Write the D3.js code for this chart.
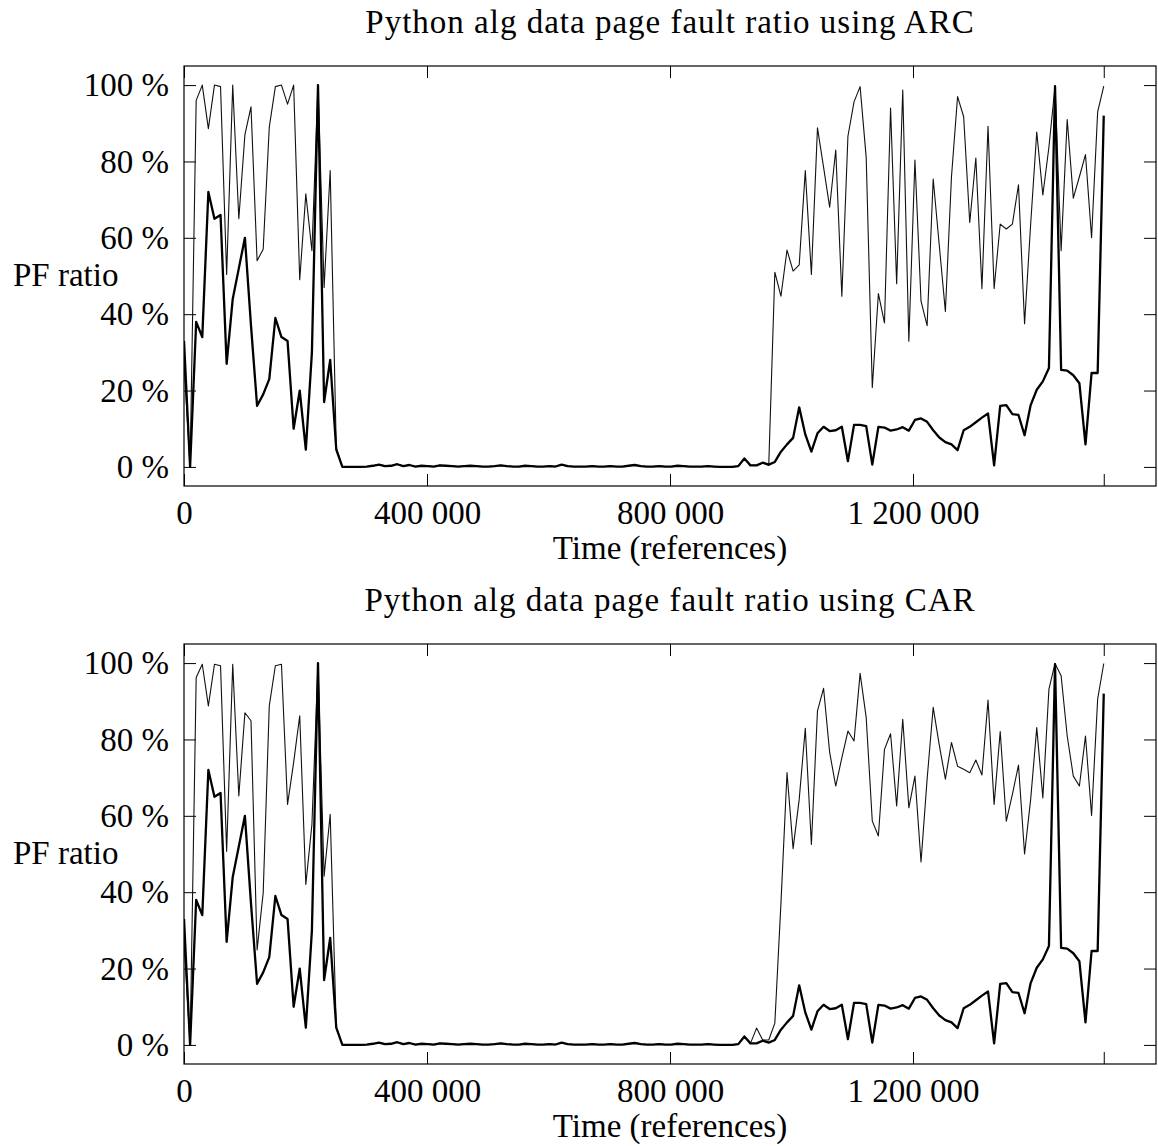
<!DOCTYPE html>
<html>
<head>
<meta charset="utf-8">
<script src="https://cdn.jsdelivr.net/npm/d3@7"></script>
<style>
  body { margin: 0; background: #fff; }
  svg text { font-family: "Liberation Serif", "Times New Roman", serif; fill: #000; }
</style>
</head>
<body>
<svg id="chart" width="1158" height="1146"></svg>
<script>
// ---- data -------------------------------------------------------------
// One sample per window; the trace covers this many memory references.
const totalReferences = 1514000;

const xTickValues = [0, 400000, 800000, 1200000];
const yTickValues = [0, 20, 40, 60, 80, 100];

// Idle stretch in the middle of the run, shared by every curve (samples 27..91).
const idleRatio = [
  0, 0, 0, 0.1, 0.3, 0.6, 0.2, 0.3, 0.7, 0.2,
  0.5, 0.1, 0.3, 0.2, 0.1, 0.4, 0.3, 0.2, 0.1, 0.2,
  0.3, 0.2, 0.1, 0.1, 0.2, 0.4, 0.2, 0.1, 0.1, 0.3,
  0.2, 0.1, 0.1, 0.2, 0.1, 0.6, 0.2, 0.1, 0.1, 0.1,
  0.2, 0.1, 0.1, 0.2, 0.1, 0.1, 0.3, 0.5, 0.2, 0.1,
  0.1, 0.2, 0.1, 0.1, 0.3, 0.2, 0.1, 0.1, 0.1, 0.2,
  0.1, 0, 0, 0, 0.2
];

// Thick curve (same in both panels): samples 0..26 and 92..151.
const baseStart = [
  33, 0, 38, 34, 72, 65, 66, 27, 44, 52,
  60, 37, 16, 19, 23, 39, 34, 33, 10, 20,
  4.5, 30, 100, 17, 28, 4.5, 0
];
const baseEnd = [
  2.2, 0.4, 0.4, 1.1, 0.6, 1.3, 4, 5.9, 7.6, 15.6,
  8.5, 4, 8.8, 10.5, 9.4, 9.6, 10.5, 1.5, 11, 11,
  10.7, 0.6, 10.5, 10.3, 9.5, 9.8, 10.4, 9.5, 12.3, 12.7,
  11.8, 9.6, 7.7, 6.5, 5.9, 4.4, 9.6, 10.5, 11.7, 12.9,
  14, 0.4, 16, 16.2, 13.8, 13.6, 8.3, 16.2, 20.2, 22.4,
  25.9, 99.7, 25.4, 25.2, 24, 21.9, 5.9, 24.6, 24.6, 92
];

// ARC page fault ratio (%): samples 0..26 and 92..151.
const arcStart = [
  27, 0, 96, 100, 88.6, 100, 99.6, 50.4, 100, 65,
  87, 94.3, 54, 57, 89, 99.6, 100, 95, 100, 49,
  71.5, 56.6, 100, 47, 77.6, 5, 0
];
const arcEnd = [
  2.2, 0.4, 0.4, 1.1, 0.4, 51, 44.7, 56.8, 51.3, 52.9,
  77.6, 50.4, 88.8, 78.5, 68, 83, 44.7, 86.6, 95.6, 99.6,
  81, 20.8, 45.4, 37.7, 94, 48, 98.7, 32.9, 80.4, 43.4,
  37, 75.4, 58, 40.7, 76, 97, 91.7, 64, 80.9, 46.7,
  89.2, 46.7, 63.6, 62.3, 63.6, 73.9, 37.5, 63.6, 87.7, 71.2,
  83.8, 99.7, 56.6, 91, 70.4, 76, 81.8, 60, 93, 99.7
];

// CAR page fault ratio (%): samples 0..26 and 92..151.
const carStart = [
  27, 0, 96.2, 99.7, 88.8, 99.7, 99.3, 50.7, 99.7, 65.2,
  87, 84.9, 24.9, 39.8, 88.8, 99.3, 99.7, 63, 74, 86.2,
  42, 57.7, 99.7, 44.2, 60.4, 4.4, 0
];
const carEnd = [
  2.2, 0.4, 4.4, 1.3, 1.3, 5.7, 37, 71.3, 51.4, 64.3,
  82.9, 52.5, 87.5, 93.4, 76.6, 67.8, 75.2, 82.2, 79.6, 97.3,
  85.7, 58.6, 54.7, 77.4, 81.5, 62.6, 85.3, 62.1, 70.4, 47.9,
  69.6, 88.4, 78.5, 69.6, 79.2, 73, 72.2, 71.3, 74.6, 70.7,
  90.3, 63, 82.1, 58.6, 65.6, 73.3, 50, 64.3, 83.1, 64.7,
  93.2, 99.9, 96.7, 80.9, 70.4, 67.8, 80.9, 60.1, 90.6, 99.9
];

const baseRatio = [...baseStart, ...idleRatio, ...baseEnd];
const arcRatio  = [...arcStart,  ...idleRatio, ...arcEnd];
const carRatio  = [...carStart,  ...idleRatio, ...carEnd];

const sampleCount = baseRatio.length;
const sampleTimes = d3.range(sampleCount).map(i => i * totalReferences / (sampleCount - 1));

const panels = [
  { title: "Python alg data page fault ratio using ARC", ratio: arcRatio, top: 66 },
  { title: "Python alg data page fault ratio using CAR", ratio: carRatio, top: 644 }
];

// ---- drawing -------------------------------------------------------------
const svg = d3.select("#chart");
const plotLeft = 184, plotRight = 1156, plotHeight = 420;
const tickLen = 12;
const fontSize = 33;
const spaced = d3.format(",");
const fmtRefs = d => spaced(d).replace(/,/g, " ");

panels.forEach((p, k) => {
  const top = p.top, bottom = top + plotHeight;
  const x = d3.scaleLinear().domain([0, 1600000]).range([plotLeft, plotRight]);
  const y = d3.scaleLinear().domain([-5, 105]).range([bottom, top]);

  const g = svg.append("g");

  const clipId = "clip" + k;
  g.append("clipPath").attr("id", clipId)
    .append("rect").attr("x", plotLeft).attr("y", top)
    .attr("width", plotRight - plotLeft).attr("height", plotHeight);

  // extra unlabeled tick marks the end of the trace
  const lastTime = sampleTimes[sampleTimes.length - 1];
  const xTicksAll = [...xTickValues, lastTime];
  const xLabel = d => xTickValues.includes(d) ? fmtRefs(d) : "";

  // bottom axis, ticks pointing into the plot
  const xb = g.append("g").attr("transform", `translate(0,${bottom})`)
    .call(d3.axisBottom(x).tickValues(xTicksAll).tickSizeInner(-tickLen).tickSizeOuter(0)
      .tickPadding(16).tickFormat(xLabel));
  // top mirror ticks
  const xt = g.append("g").attr("transform", `translate(0,${top})`)
    .call(d3.axisTop(x).tickValues(xTicksAll).tickSizeInner(-tickLen).tickSizeOuter(0)
      .tickFormat(""));
  // left axis
  const yl = g.append("g").attr("transform", `translate(${plotLeft},0)`)
    .call(d3.axisLeft(y).tickValues(yTickValues).tickSizeInner(-tickLen).tickSizeOuter(0)
      .tickPadding(15).tickFormat(d => d + " %"));
  // right mirror ticks
  const yr = g.append("g").attr("transform", `translate(${plotRight},0)`)
    .call(d3.axisRight(y).tickValues(yTickValues).tickSizeInner(-tickLen).tickSizeOuter(0)
      .tickFormat(""));

  [xb, xt, yl, yr].forEach(a => {
    a.select(".domain").remove();
    a.selectAll(".tick line").attr("stroke", "#000").attr("stroke-width", 1);
    a.selectAll(".tick text").style("font-size", fontSize + "px")
      .style("font-family", '"Liberation Serif", serif').attr("fill", "#000");
  });
  xb.selectAll(".tick text").attr("dy", null).attr("y", 37.5);

  // curves
  const line = d3.line()
    .x((d, i) => x(sampleTimes[i]))
    .y(d => y(d));

  const curves = g.append("g").attr("clip-path", `url(#${clipId})`);
  curves.append("path").datum(p.ratio)
    .attr("d", line).attr("fill", "none")
    .attr("stroke", "#111").attr("stroke-width", 1.1)
    .attr("stroke-linejoin", "round");
  curves.append("path").datum(baseRatio)
    .attr("d", line).attr("fill", "none")
    .attr("stroke", "#000").attr("stroke-width", 2.3)
    .attr("stroke-linejoin", "round");

  // frame
  g.append("rect")
    .attr("x", plotLeft).attr("y", top)
    .attr("width", plotRight - plotLeft).attr("height", plotHeight)
    .attr("fill", "none").attr("stroke", "#000").attr("stroke-width", 1.2);

  // titles and labels
  g.append("text")
    .attr("x", (plotLeft + plotRight) / 2).attr("y", top - 33)
    .attr("text-anchor", "middle").style("font-size", fontSize + "px")
    .style("letter-spacing", "1px")
    .text(p.title);
  g.append("text")
    .attr("x", (plotLeft + plotRight) / 2).attr("y", bottom + 73)
    .attr("text-anchor", "middle").style("font-size", fontSize + "px")
    .text("Time (references)");
  g.append("text")
    .attr("x", 13).attr("y", top + 220)
    .attr("text-anchor", "start").style("font-size", fontSize + "px")
    .text("PF ratio");
});
</script>
</body>
</html>
